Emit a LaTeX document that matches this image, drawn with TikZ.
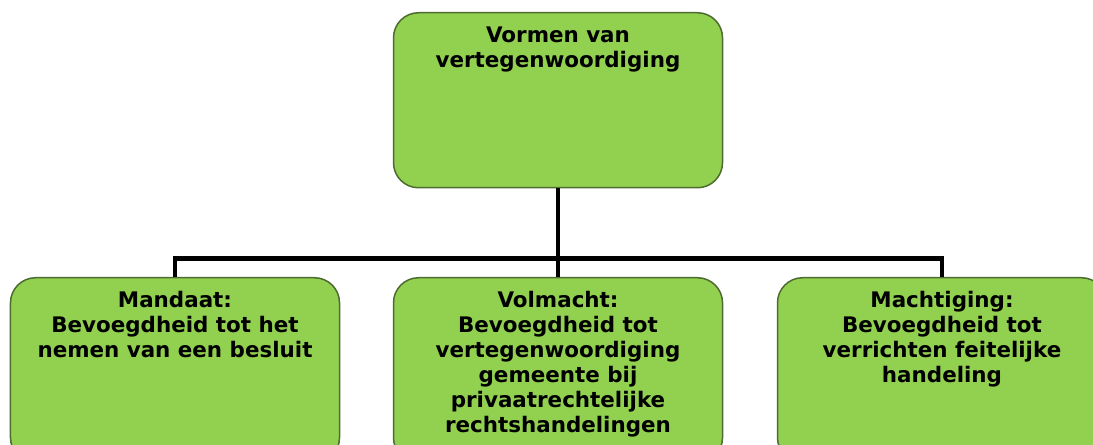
\documentclass[tikz,border=0pt]{standalone}
\usepackage{fontspec}
\setmainfont{DejaVu Sans}
\definecolor{boxgreen}{HTML}{92D050}
\definecolor{boxedge}{HTML}{4E6B30}
\tikzset{
  box/.style={draw=boxedge, line width=1.5bp, fill=boxgreen, rounded corners=25bp,
    inner sep=0pt, font=\bfseries\fontsize{21.5}{25}\selectfont},
  link/.style={draw=black, line width=4.5bp}
}
\newcommand{\boxtext}[3]{\parbox[c][#1][t]{#2}{\centering\rule{0pt}{30bp}#3}}
\begin{document}
\begin{tikzpicture}[x=1bp, y=-1bp]
  \useasboundingbox (0,0) rectangle (1093,445);
  % Nodes
  \node[box, anchor=north] (vormen) at (558,12) {\boxtext{175bp}{329bp}{Vormen van\\vertegenwoordiging}};
  \node[box, anchor=north] (mandaat) at (175,277) {\boxtext{185bp}{329bp}{Mandaat:\\Bevoegdheid tot het\\nemen van een besluit}};
  \node[box, anchor=north] (volmacht) at (558,277) {\boxtext{185bp}{329bp}{Volmacht:\\Bevoegdheid tot\\vertegenwoordiging\\gemeente bij\\privaatrechtelijke\\rechtshandelingen}};
  \node[box, anchor=north] (machtiging) at (942,277) {\boxtext{185bp}{329bp}{Machtiging:\\Bevoegdheid tot\\verrichten feitelijke\\handeling}};
  \coordinate (bus) at (558,258.5);

  % Edges
  \draw[link] (vormen.south) -- (volmacht.north);
  \draw[link] (mandaat.north) |- (bus) -| (machtiging.north);
\end{tikzpicture}
\end{document}
